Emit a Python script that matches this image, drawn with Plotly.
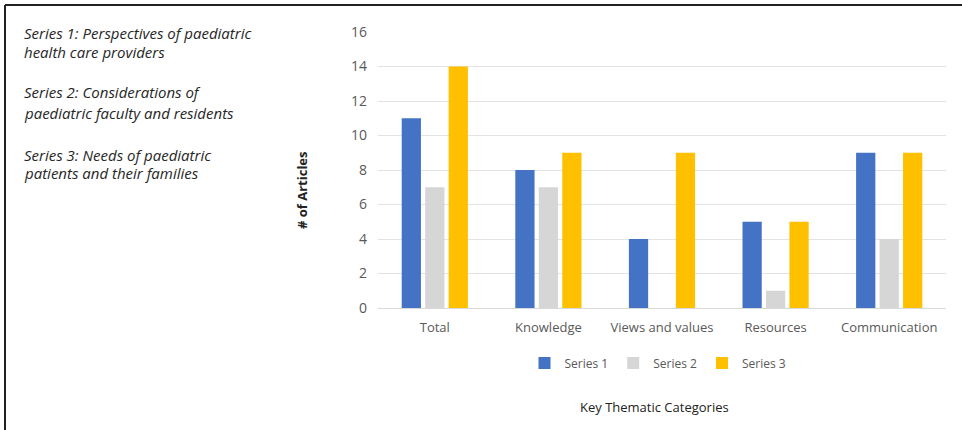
import plotly.graph_objects as go

categories = ["Total", "Knowledge", "Views and values", "Resources", "Communication"]
series1 = [11, 8, 4, 5, 9]
series2 = [7, 7, 0, 1, 4]
series3 = [14, 9, 9, 5, 9]
series_names = ["Series 1", "Series 2", "Series 3"]
y_ticks = [0, 2, 4, 6, 8, 10, 12, 14, 16]
side_notes = [
    "Series 1: Perspectives of paediatric",
    "health care providers",
    "Series 2: Considerations of",
    "paediatric faculty and residents",
    "Series 3: Needs of paediatric",
    "patients and their families",
]

W, H = 962, 430
ML, MR, MT, MB = 378, 16, 32, 122
PW, PH = W - ML - MR, H - MT - MB


def px_x(x):
    return (x - ML) / PW


def px_y(y):
    return (H - MB - y) / PH


colors = ["#4472C4", "#D6D6D6", "#FFC000"]
fig = go.Figure()
for name, vals, c in zip(series_names, [series1, series2, series3], colors):
    fig.add_trace(go.Bar(x=categories, y=vals, name=name, marker=dict(color=c, line=dict(width=0))))

tick_font = dict(family="Open Sans", size=13, color="#595959")
fig.update_layout(
    width=W, height=H,
    margin=dict(l=ML, r=MR, t=MT, b=MB),
    paper_bgcolor="white", plot_bgcolor="white",
    barmode="group", bargap=0.38, bargroupgap=0.18,
    showlegend=True,
    legend=dict(orientation="h", x=px_x(658), xanchor="center", y=px_y(363), yanchor="middle",
                font=dict(family="Open Sans", size=12, color="#595959"), itemwidth=30,
                tracegroupgap=0, bgcolor="rgba(0,0,0,0)"),
    xaxis=dict(tickfont=tick_font, showline=True, linecolor="#D9D9D9", linewidth=1,
               ticks="", showgrid=False, ticklabelstandoff=7),
    yaxis=dict(range=[0, 16], tickvals=y_ticks, tickfont=dict(family="Open Sans", size=14, color="#595959"),
               showgrid=True, gridcolor="#E3E3E3", gridwidth=1, zeroline=False, showline=False,
               ticks="", ticklabelstandoff=10),
)

ann = []
note_y = [33, 52, 92, 113, 155, 173]
for t, yy in zip(side_notes, note_y):
    ann.append(dict(text=t, x=px_x(22), y=px_y(yy), xref="paper", yref="paper", xanchor="left",
                    yanchor="middle", showarrow=False,
                    font=dict(family="Open Sans", size=15, color="#262626", style="italic")))
ann.append(dict(text="# of Articles", x=px_x(302), y=px_y(190), xref="paper", yref="paper",
                textangle=-90, showarrow=False, xanchor="center", yanchor="middle",
                font=dict(family="Open Sans", size=13, color="#222222", weight="bold")))
ann.append(dict(text="Key Thematic Categories", x=px_x(654), y=px_y(407), xref="paper", yref="paper",
                showarrow=False, xanchor="center", yanchor="middle",
                font=dict(family="Open Sans", size=13, color="#222222")))
fig.update_layout(annotations=ann)

fig.update_layout(shapes=[
    dict(type="line", xref="paper", yref="paper", x0=px_x(5), x1=px_x(W + 5), y0=px_y(5), y1=px_y(5),
         line=dict(color="#222222", width=2)),
    dict(type="line", xref="paper", yref="paper", x0=px_x(5), x1=px_x(5), y0=px_y(5), y1=px_y(H + 5),
         line=dict(color="#222222", width=2)),
])

fig.write_html("out.html")
